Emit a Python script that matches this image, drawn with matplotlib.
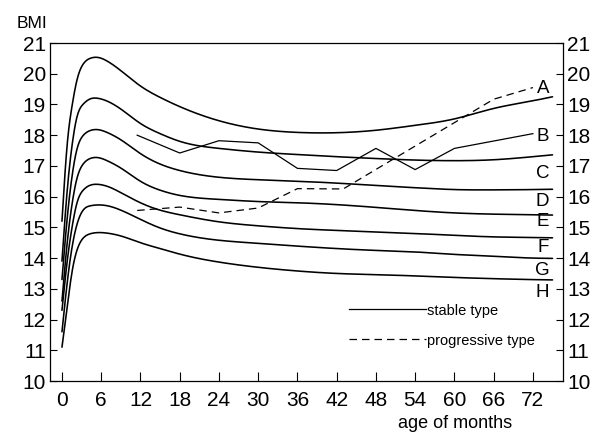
import numpy as np
import matplotlib
matplotlib.use("Agg")
import matplotlib.pyplot as plt
from matplotlib import font_manager

# ---------------- data ----------------
months_ref = [0, 0.8, 1.5, 2.3, 3.2, 4.3, 5.5, 7, 9, 12, 15, 18, 24, 30, 36, 42, 48, 54, 60, 66, 72, 75]
curve_1 = [15.2, 17.7, 18.9, 19.8, 20.3, 20.5, 20.53, 20.4, 20.1, 19.6, 19.23, 18.93, 18.47, 18.2, 18.09, 18.08, 18.16, 18.32, 18.53, 18.87, 19.12, 19.25]
curve_2 = [13.9, 16.2, 17.6, 18.6, 19.0, 19.18, 19.2, 19.1, 18.85, 18.38, 18.05, 17.8, 17.57, 17.45, 17.37, 17.3, 17.24, 17.19, 17.17, 17.2, 17.3, 17.36]
curve_3 = [13.3, 15.3, 16.6, 17.55, 17.98, 18.15, 18.18, 18.08, 17.85, 17.4, 17.06, 16.85, 16.63, 16.55, 16.5, 16.44, 16.36, 16.29, 16.23, 16.22, 16.23, 16.24]
curve_4 = [12.6, 14.5, 15.7, 16.6, 17.05, 17.24, 17.27, 17.16, 16.93, 16.5, 16.21, 16.04, 15.91, 15.84, 15.8, 15.74, 15.65, 15.55, 15.47, 15.43, 15.41, 15.4]
curve_5 = [12.3, 13.9, 14.95, 15.8, 16.2, 16.37, 16.4, 16.33, 16.13, 15.8, 15.56, 15.41, 15.18, 15.05, 14.96, 14.9, 14.85, 14.8, 14.74, 14.69, 14.67, 14.66]
curve_6 = [11.6, 13.2, 14.3, 15.1, 15.55, 15.7, 15.73, 15.7, 15.56, 15.26, 14.98, 14.79, 14.58, 14.48, 14.39, 14.31, 14.25, 14.2, 14.12, 14.06, 14.0, 13.99]
curve_7 = [11.1, 12.42, 13.5, 14.26, 14.64, 14.79, 14.83, 14.81, 14.72, 14.5, 14.31, 14.13, 13.87, 13.7, 13.58, 13.5, 13.46, 13.42, 13.37, 13.33, 13.3, 13.29]

stable_months = [11.5, 18, 24, 30, 36, 42, 48, 54, 60, 72]
stable_bmi = [18.0, 17.42, 17.82, 17.75, 16.92, 16.85, 17.57, 16.88, 17.57, 18.05]

progressive_months = [11.5, 18, 24, 30, 36, 43, 66, 72]
progressive_bmi = [15.55, 15.66, 15.47, 15.63, 16.26, 16.25, 19.17, 19.55]

zone_labels = ["A", "B", "C", "D", "E", "F", "G", "H"]
zone_label_y = [19.53, 17.97, 16.76, 15.84, 15.18, 14.35, 13.61, 12.87]

x_ticks = [0, 6, 12, 18, 24, 30, 36, 42, 48, 54, 60, 66, 72]
y_ticks = [10, 11, 12, 13, 14, 15, 16, 17, 18, 19, 20, 21]


def natural_spline(x, y, xs):
    x = np.asarray(x, float)
    y = np.asarray(y, float)
    n = len(x)
    h = np.diff(x)
    A = np.zeros((n, n))
    r = np.zeros(n)
    A[0, 0] = A[-1, -1] = 1.0
    for i in range(1, n - 1):
        A[i, i - 1] = h[i - 1]
        A[i, i] = 2 * (h[i - 1] + h[i])
        A[i, i + 1] = h[i]
        r[i] = 6 * ((y[i + 1] - y[i]) / h[i] - (y[i] - y[i - 1]) / h[i - 1])
    M = np.linalg.solve(A, r)
    idx = np.clip(np.searchsorted(x, xs) - 1, 0, n - 2)
    x0, x1 = x[idx], x[idx + 1]
    hh = h[idx]
    a = (x1 - xs) / hh
    b = (xs - x0) / hh
    return (a * y[idx] + b * y[idx + 1]
            + ((a**3 - a) * M[idx] + (b**3 - b) * M[idx + 1]) * hh**2 / 6)


def pick(names):
    avail = {f.name for f in font_manager.fontManager.ttflist}
    return [n for n in names if n in avail] + ["DejaVu Sans"]


narrow = pick(["Liberation Sans Narrow", "Liberation Sans"])
regular = pick(["Liberation Sans"])

fig = plt.figure(figsize=(6.02, 4.33), dpi=100)
ax = fig.add_axes([50 / 602, 1 - 381 / 433, 513 / 602, 338 / 433])

xs = np.linspace(months_ref[0], months_ref[-1], 800)
for c in [curve_1, curve_2, curve_3, curve_4, curve_5, curve_6, curve_7]:
    ax.plot(xs, natural_spline(months_ref, c, xs), color="black", lw=1.15,
            solid_capstyle="round")

ax.plot(stable_months, stable_bmi, color="black", lw=0.9, label="stable type")
ax.plot(progressive_months, progressive_bmi, color="black", lw=0.9,
        dashes=(6, 4), label="progressive type")

for lab, yy in zip(zone_labels, zone_label_y):
    ax.text(73.5, yy, lab, ha="center", va="center", fontsize=13.5, family=narrow)

ax.set_xlim(-1.83, 76.6)
ax.set_ylim(10, 21)
ax.set_xticks(x_ticks)
ax.set_yticks(y_ticks)
ax.tick_params(axis="both", direction="in", color="black", width=0.8)
ax.tick_params(axis="y", length=5, pad=3, left=True, right=True,
               labelleft=True, labelright=True)
ax.tick_params(axis="x", length=6.5, pad=7)
for tick in ax.yaxis.get_major_ticks():
    for lab in (tick.label1, tick.label2):
        lab.set_fontfamily(narrow)
        lab.set_fontsize(15)
for tick in ax.xaxis.get_major_ticks():
    tick.label1.set_fontfamily(narrow)
    tick.label1.set_fontsize(15)

for s in ax.spines.values():
    s.set_linewidth(0.9)

ax.legend(loc="upper left", bbox_to_anchor=(0.557, 0.268), frameon=False,
          handlelength=5.3, handletextpad=0.05, labelspacing=1.1,
          prop={"family": regular, "size": 10.5})

fig.text(17 / 602, 1 - 23 / 433, "BMI", ha="left", va="center", fontsize=12.5, family=regular)
fig.text(455 / 602, 1 - 423 / 433, "age of months", ha="center", va="center",
         fontsize=13, family=regular)

fig.savefig("out.png", dpi=100)
